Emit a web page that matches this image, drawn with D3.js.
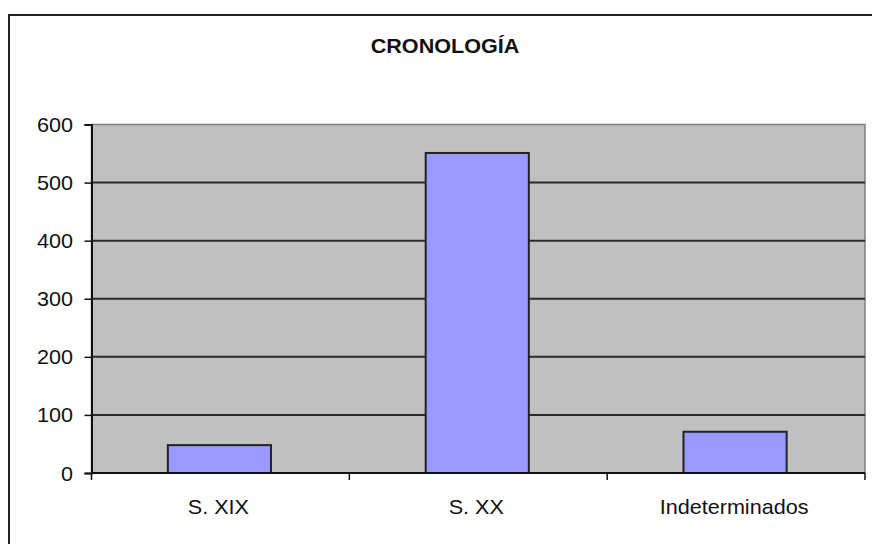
<!DOCTYPE html>
<html>
<head>
<meta charset="utf-8">
<script src="https://cdn.jsdelivr.net/npm/d3@7"></script>
<style>
  body { margin: 0; background: #fff; }
  text { font-family: "Liberation Sans", Arial, sans-serif; fill: #111; }
</style>
</head>
<body>
<svg id="chart" width="872" height="544"></svg>
<script>
// data
var categories = ["S. XIX", "S. XX", "Indeterminados"];
var values = [48, 551, 71];
var yTicks = [0, 100, 200, 300, 400, 500, 600];
var title = "CRONOLOGÍA";

var svg = d3.select("#chart");
var plot = {left: 91.5, right: 865, top: 124.5, bottom: 473};

// outer frame (runs off the picture on the right and bottom)
svg.append("rect")
  .attr("x", 9).attr("y", 15)
  .attr("width", 900).attr("height", 600)
  .attr("fill", "#fff")
  .attr("stroke", "#222")
  .attr("stroke-width", 2);

var x = d3.scaleBand().domain(categories).range([plot.left, plot.right]).padding(0);
var y = d3.scaleLinear().domain([0, 600]).range([plot.bottom, plot.top]);

// plot area
svg.append("rect")
  .attr("x", plot.left).attr("y", plot.top)
  .attr("width", plot.right - plot.left).attr("height", plot.bottom - plot.top)
  .attr("fill", "#c0c0c0")
  .attr("stroke", "#808080")
  .attr("stroke-width", 1.5);

// gridlines
svg.append("g").selectAll("line")
  .data(yTicks.filter(function(d) { return d > 0 && d < 600; }))
  .join("line")
  .attr("x1", plot.left).attr("x2", plot.right)
  .attr("y1", function(d) { return y(d); })
  .attr("y2", function(d) { return y(d); })
  .attr("stroke", "#2a2a2a")
  .attr("stroke-width", 2);

// bars
var bw = x.bandwidth() * 0.4;
svg.append("g").selectAll("rect")
  .data(values)
  .join("rect")
  .attr("x", function(d, i) { return x(categories[i]) + x.bandwidth() / 2 - bw / 2 - 1; })
  .attr("y", function(d) { return y(d); })
  .attr("width", bw)
  .attr("height", function(d) { return y(0) - y(d); })
  .attr("fill", "#9999ff")
  .attr("stroke", "#222")
  .attr("stroke-width", 2);

// y axis
var yAxis = svg.append("g")
  .attr("transform", "translate(" + plot.left + ",0)")
  .call(d3.axisLeft(y).tickValues(yTicks).tickSize(7).tickFormat(""));
yAxis.select(".domain").attr("stroke", "#111").attr("stroke-width", 2);
yAxis.selectAll(".tick line").attr("stroke", "#111").attr("stroke-width", 1.5);

svg.append("g").selectAll("text")
  .data(yTicks)
  .join("text")
  .attr("transform", function(d) { return "translate(73," + (y(d) + 7.5) + ") scale(1.08,1)"; })
  .attr("text-anchor", "end")
  .attr("font-size", "20px")
  .text(function(d) { return d; });

// x axis, ticks sit between categories
var xEdges = categories.map(function(c) { return x(c); }).concat([plot.right]);
svg.append("line")
  .attr("x1", plot.left).attr("x2", plot.right)
  .attr("y1", plot.bottom).attr("y2", plot.bottom)
  .attr("stroke", "#111").attr("stroke-width", 2);
svg.append("g").selectAll("line")
  .data(xEdges)
  .join("line")
  .attr("x1", function(d) { return d; }).attr("x2", function(d) { return d; })
  .attr("y1", plot.bottom).attr("y2", plot.bottom + 7)
  .attr("stroke", "#111").attr("stroke-width", 1.5);

svg.append("g").selectAll("text")
  .data(categories)
  .join("text")
  .attr("transform", function(d) { return "translate(" + (x(d) + x.bandwidth() / 2 - 2) + ",514) scale(1.08,1)"; })
  .attr("text-anchor", "middle")
  .attr("font-size", "20px")
  .text(function(d) { return d; });

// title
svg.append("text")
  .attr("transform", "translate(445,53) scale(1.08,1)")
  .attr("text-anchor", "middle")
  .attr("font-size", "20px")
  .attr("font-weight", "bold")
  .text(title);
</script>
</body>
</html>
